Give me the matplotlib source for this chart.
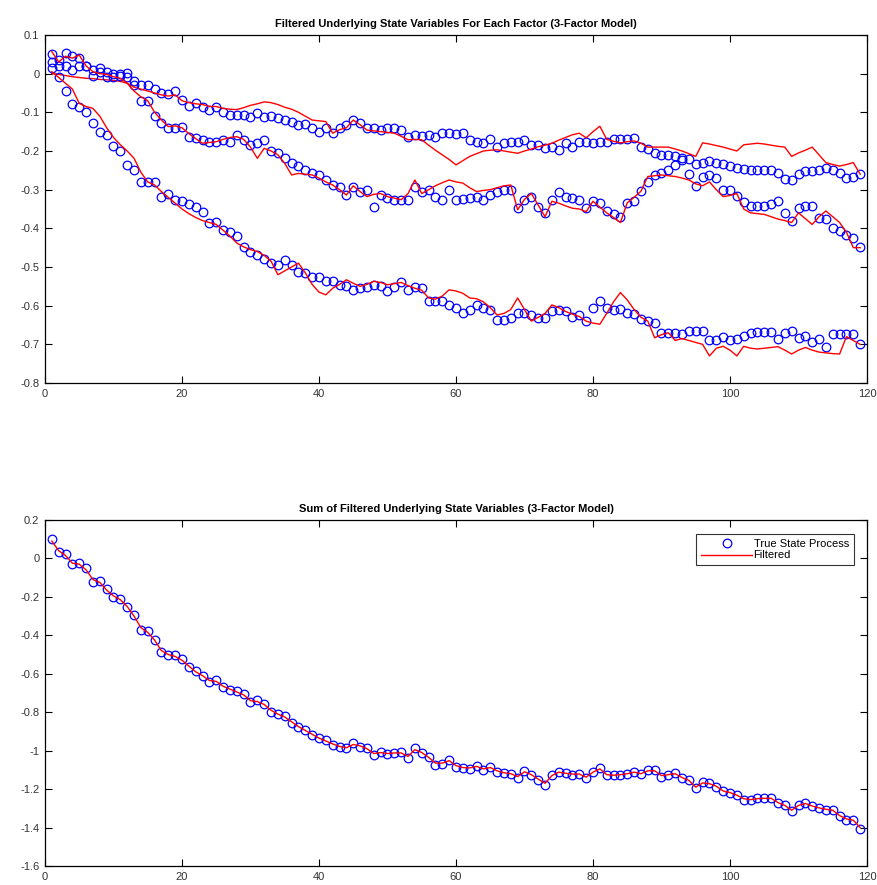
import matplotlib as mpl
mpl.use('Agg')
import matplotlib.pyplot as plt
import numpy as np
from matplotlib.ticker import FuncFormatter

plt.rcParams['font.family'] = ['Liberation Sans', 'DejaVu Sans']
plt.rcParams['axes.unicode_minus'] = False

t = np.arange(1, 120)

# true state process, one array per factor
true_f1 = [0.05, 0.035, 0.053, 0.045, 0.04, 0.02, 0.01, 0.015, 0.005, 0.0,
           0.0, 0.002, -0.02, -0.03, -0.03, -0.04, -0.05, -0.053, -0.046, -0.068,
           -0.083, -0.076, -0.085, -0.094, -0.085, -0.098, -0.107, -0.107, -0.107, -0.111,
           -0.102, -0.111, -0.11, -0.115, -0.12, -0.124, -0.133, -0.13, -0.141, -0.15,
           -0.141, -0.154, -0.141, -0.133, -0.12, -0.128, -0.141, -0.141, -0.146, -0.141,
           -0.141, -0.146, -0.163, -0.158, -0.161, -0.158, -0.163, -0.154, -0.154, -0.156,
           -0.154, -0.171, -0.176, -0.18, -0.17, -0.189, -0.18, -0.178, -0.178, -0.171,
           -0.184, -0.184, -0.193, -0.189, -0.197, -0.18, -0.189, -0.178, -0.176, -0.18,
           -0.178, -0.176, -0.17, -0.169, -0.169, -0.167, -0.19, -0.196, -0.205, -0.21,
           -0.21, -0.213, -0.217, -0.222, -0.234, -0.23, -0.226, -0.23, -0.234, -0.24,
           -0.244, -0.247, -0.248, -0.25, -0.25, -0.248, -0.256, -0.272, -0.274, -0.26,
           -0.253, -0.253, -0.248, -0.244, -0.248, -0.257, -0.27, -0.267, -0.26]
true_f2 = [0.031, 0.02, 0.02, 0.01, 0.02, 0.02, -0.005, 0.005, -0.01, -0.01,
           -0.005, -0.01, -0.03, -0.07, -0.072, -0.11, -0.128, -0.141, -0.141, -0.137,
           -0.163, -0.167, -0.171, -0.176, -0.176, -0.171, -0.176, -0.158, -0.172, -0.184,
           -0.18, -0.171, -0.2, -0.206, -0.219, -0.232, -0.24, -0.249, -0.258, -0.262,
           -0.275, -0.288, -0.292, -0.314, -0.292, -0.305, -0.3, -0.344, -0.314, -0.322,
           -0.326, -0.326, -0.326, -0.292, -0.305, -0.3, -0.318, -0.326, -0.3, -0.326,
           -0.325, -0.322, -0.318, -0.326, -0.314, -0.305, -0.3, -0.3, -0.348, -0.326,
           -0.318, -0.344, -0.361, -0.326, -0.305, -0.318, -0.322, -0.326, -0.347, -0.33,
           -0.335, -0.356, -0.364, -0.37, -0.335, -0.33, -0.304, -0.28, -0.262, -0.257,
           -0.25, -0.236, -0.224, -0.26, -0.29, -0.268, -0.262, -0.27, -0.3, -0.3,
           -0.316, -0.333, -0.342, -0.342, -0.342, -0.338, -0.33, -0.36, -0.382, -0.347,
           -0.342, -0.342, -0.373, -0.376, -0.4, -0.408, -0.417, -0.425, -0.447]
true_f3 = [0.014, -0.01, -0.046, -0.078, -0.085, -0.10, -0.128, -0.15, -0.158, -0.186,
           -0.20, -0.236, -0.249, -0.279, -0.28, -0.28, -0.318, -0.31, -0.326, -0.33,
           -0.336, -0.344, -0.357, -0.387, -0.383, -0.405, -0.41, -0.42, -0.447, -0.46,
           -0.468, -0.48, -0.49, -0.494, -0.482, -0.494, -0.512, -0.516, -0.525, -0.526,
           -0.537, -0.537, -0.546, -0.549, -0.559, -0.555, -0.552, -0.546, -0.55, -0.563,
           -0.552, -0.54, -0.56, -0.552, -0.555, -0.589, -0.589, -0.589, -0.598, -0.606,
           -0.62, -0.61, -0.598, -0.606, -0.61, -0.636, -0.636, -0.632, -0.62, -0.62,
           -0.624, -0.632, -0.632, -0.615, -0.61, -0.615, -0.628, -0.624, -0.64, -0.605,
           -0.588, -0.605, -0.61, -0.608, -0.618, -0.622, -0.635, -0.64, -0.646, -0.67,
           -0.67, -0.67, -0.674, -0.665, -0.665, -0.665, -0.69, -0.69, -0.68, -0.69,
           -0.686, -0.678, -0.67, -0.668, -0.668, -0.668, -0.686, -0.67, -0.665, -0.683,
           -0.678, -0.695, -0.686, -0.708, -0.673, -0.673, -0.673, -0.673, -0.70]

# filtered estimates for each factor
filt_f1 = [0.0, -0.002, -0.005, -0.008, -0.01, -0.012, -0.013, -0.015, -0.016, -0.018,
           -0.02, -0.025, -0.035, -0.04, -0.045, -0.05, -0.055, -0.058, -0.055, -0.07,
           -0.075, -0.078, -0.08, -0.085, -0.085, -0.09, -0.092, -0.093, -0.088, -0.082,
           -0.078, -0.073, -0.075, -0.08, -0.087, -0.092, -0.1, -0.11, -0.12, -0.122,
           -0.124, -0.154, -0.145, -0.14, -0.12, -0.132, -0.146, -0.148, -0.15, -0.152,
           -0.154, -0.162, -0.171, -0.17, -0.171, -0.185, -0.198, -0.21, -0.222, -0.236,
           -0.225, -0.214, -0.207, -0.2, -0.198, -0.197, -0.2, -0.203, -0.206, -0.2,
           -0.195, -0.189, -0.185, -0.18, -0.172, -0.165, -0.158, -0.154, -0.166, -0.15,
           -0.136, -0.17, -0.175, -0.179, -0.176, -0.174, -0.18, -0.19, -0.19, -0.19,
           -0.19, -0.195, -0.2, -0.207, -0.214, -0.179, -0.182, -0.186, -0.19, -0.195,
           -0.2, -0.184, -0.182, -0.18, -0.182, -0.185, -0.188, -0.19, -0.214, -0.205,
           -0.198, -0.19, -0.21, -0.23, -0.235, -0.239, -0.235, -0.23, -0.26]
filt_f2 = [0.057, 0.03, 0.045, 0.04, 0.048, 0.02, 0.005, 0.0, -0.002, -0.008,
           -0.012, -0.025, -0.045, -0.06, -0.07, -0.1, -0.12, -0.137, -0.135, -0.14,
           -0.155, -0.168, -0.18, -0.178, -0.176, -0.17, -0.165, -0.163, -0.17, -0.19,
           -0.219, -0.193, -0.2, -0.21, -0.232, -0.262, -0.258, -0.26, -0.262, -0.27,
           -0.28, -0.288, -0.3, -0.314, -0.29, -0.305, -0.318, -0.312, -0.31, -0.318,
           -0.322, -0.326, -0.31, -0.275, -0.31, -0.3, -0.29, -0.282, -0.275, -0.28,
           -0.283, -0.295, -0.305, -0.302, -0.3, -0.295, -0.29, -0.288, -0.352, -0.325,
           -0.31, -0.34, -0.37, -0.33, -0.335, -0.342, -0.348, -0.35, -0.357, -0.33,
           -0.345, -0.36, -0.372, -0.385, -0.334, -0.32, -0.304, -0.266, -0.264, -0.262,
           -0.264, -0.266, -0.27, -0.275, -0.285, -0.29, -0.28, -0.3, -0.318, -0.315,
           -0.31, -0.35, -0.36, -0.362, -0.364, -0.37, -0.376, -0.38, -0.385, -0.36,
           -0.375, -0.39, -0.37, -0.355, -0.37, -0.385, -0.41, -0.45, -0.45]
filt_f3 = [0.005, -0.01, -0.025, -0.04, -0.077, -0.085, -0.09, -0.11, -0.14, -0.165,
           -0.184, -0.2, -0.219, -0.255, -0.28, -0.288, -0.305, -0.32, -0.335, -0.35,
           -0.362, -0.372, -0.38, -0.385, -0.39, -0.405, -0.42, -0.438, -0.448, -0.455,
           -0.46, -0.47, -0.485, -0.52, -0.51, -0.5, -0.49, -0.515, -0.545, -0.565,
           -0.572, -0.555, -0.545, -0.533, -0.542, -0.55, -0.545, -0.537, -0.54, -0.546,
           -0.543, -0.54, -0.548, -0.555, -0.56, -0.58, -0.583, -0.575, -0.559, -0.562,
           -0.568, -0.58, -0.582, -0.59, -0.605, -0.624, -0.62, -0.61, -0.58, -0.61,
           -0.64, -0.63, -0.62, -0.598, -0.605, -0.615, -0.622, -0.628, -0.64, -0.645,
           -0.648, -0.62, -0.59, -0.566, -0.585, -0.61, -0.63, -0.64, -0.683, -0.675,
           -0.67, -0.69, -0.685, -0.69, -0.695, -0.7, -0.73, -0.71, -0.705, -0.715,
           -0.73, -0.705, -0.71, -0.712, -0.71, -0.708, -0.706, -0.715, -0.725, -0.715,
           -0.708, -0.715, -0.72, -0.722, -0.724, -0.725, -0.68, -0.69, -0.7]

# sum over the three factors
true_sum = [0.10, 0.031, 0.022, -0.03, -0.024, -0.052, -0.121, -0.116, -0.159, -0.20,
            -0.21, -0.254, -0.297, -0.37, -0.38, -0.427, -0.487, -0.50, -0.504, -0.525,
            -0.565, -0.587, -0.613, -0.642, -0.634, -0.668, -0.686, -0.69, -0.703, -0.746,
            -0.737, -0.755, -0.798, -0.807, -0.822, -0.855, -0.878, -0.893, -0.919, -0.936,
            -0.945, -0.97, -0.98, -0.988, -0.962, -0.98, -0.988, -1.022, -1.005, -1.019,
            -1.014, -1.009, -1.04, -0.988, -1.014, -1.031, -1.074, -1.07, -1.048, -1.083,
            -1.091, -1.095, -1.078, -1.10, -1.083, -1.109, -1.117, -1.122, -1.143, -1.105,
            -1.126, -1.152, -1.178, -1.126, -1.109, -1.117, -1.126, -1.12, -1.143, -1.109,
            -1.091, -1.129, -1.129, -1.126, -1.122, -1.109, -1.122, -1.10, -1.10, -1.135,
            -1.126, -1.117, -1.143, -1.152, -1.195, -1.164, -1.17, -1.187, -1.212, -1.221,
            -1.23, -1.256, -1.256, -1.247, -1.247, -1.244, -1.273, -1.282, -1.316, -1.282,
            -1.273, -1.29, -1.299, -1.307, -1.307, -1.342, -1.36, -1.36, -1.406]
filt_sum = [0.09, 0.04, 0.015, -0.025, -0.03, -0.06, -0.11, -0.125, -0.165, -0.195,
            -0.215, -0.25, -0.3, -0.36, -0.385, -0.425, -0.48, -0.5, -0.51, -0.53,
            -0.56, -0.59, -0.61, -0.635, -0.64, -0.665, -0.68, -0.695, -0.71, -0.74,
            -0.745, -0.76, -0.79, -0.81, -0.825, -0.85, -0.875, -0.895, -0.915, -0.935,
            -0.95, -0.965, -0.978, -0.985, -0.968, -0.975, -0.99, -1.015, -1.01, -1.015,
            -1.012, -1.012, -1.03, -0.995, -1.01, -1.035, -1.065, -1.065, -1.052, -1.078,
            -1.088, -1.09, -1.082, -1.095, -1.088, -1.105, -1.115, -1.12, -1.135, -1.11,
            -1.125, -1.148, -1.17, -1.13, -1.112, -1.118, -1.122, -1.122, -1.138, -1.112,
            -1.095, -1.125, -1.128, -1.125, -1.12, -1.112, -1.12, -1.105, -1.105, -1.13,
            -1.125, -1.12, -1.14, -1.155, -1.19, -1.168, -1.172, -1.185, -1.21, -1.218,
            -1.232, -1.25, -1.255, -1.25, -1.248, -1.248, -1.27, -1.285, -1.31, -1.285,
            -1.275, -1.288, -1.298, -1.305, -1.31, -1.338, -1.355, -1.362, -1.4]

fig = plt.figure(figsize=(8.77, 8.85), dpi=100)
ax1 = fig.add_axes([0.0513, 0.5672, 0.9373, 0.3933])
ax2 = fig.add_axes([0.0513, 0.0215, 0.9373, 0.3910])

mk = dict(linestyle='none', marker='o', markersize=6.2, markerfacecolor='none',
          markeredgecolor='#0000ff', markeredgewidth=0.9)
ln = dict(color='#ff0000', linewidth=1.0)

for tr, fl in [(true_f1, filt_f1), (true_f2, filt_f2), (true_f3, filt_f3)]:
    ax1.plot(t, tr, **mk)
    ax1.plot(t, fl, **ln)

h1, = ax2.plot(t, true_sum, **mk)
h2, = ax2.plot(t, filt_sum, **ln)

# matlab-style labels: 0, -0.2, -1 ...
fmt = FuncFormatter(lambda v, p: '%g' % (round(v, 4) + 0.0))
for ax in (ax1, ax2):
    ax.set_xlim(0, 120)
    ax.set_xticks(np.arange(0, 121, 20))
    ax.yaxis.set_major_formatter(fmt)
    ax.tick_params(direction='in', top=True, right=True, length=5, width=0.8,
                   labelsize=8, labelcolor='#333333', pad=4)
    for s in ax.spines.values():
        s.set_linewidth(0.9)

ax1.set_ylim(-0.8, 0.1)
ax1.set_yticks(np.arange(-0.8, 0.11, 0.1))
ax1.set_title('Filtered Underlying State Variables For Each Factor (3-Factor Model)',
              fontsize=8, fontweight='bold', pad=6)

ax2.set_ylim(-1.6, 0.2)
ax2.set_yticks(np.arange(-1.6, 0.21, 0.2))
ax2.set_title('Sum of Filtered Underlying State Variables (3-Factor Model)',
              fontsize=8, fontweight='bold', pad=6)

leg = ax2.legend([h1, h2], ['True State Process', 'Filtered'], loc='upper right',
                 fontsize=8, frameon=True, fancybox=False, edgecolor='black',
                 handlelength=4.6, borderpad=0.45, labelspacing=0.15,
                 handletextpad=0.1, borderaxespad=0, bbox_to_anchor=(0.984, 0.96))
leg.get_frame().set_linewidth(0.8)

plt.savefig('out.png', dpi=100)
